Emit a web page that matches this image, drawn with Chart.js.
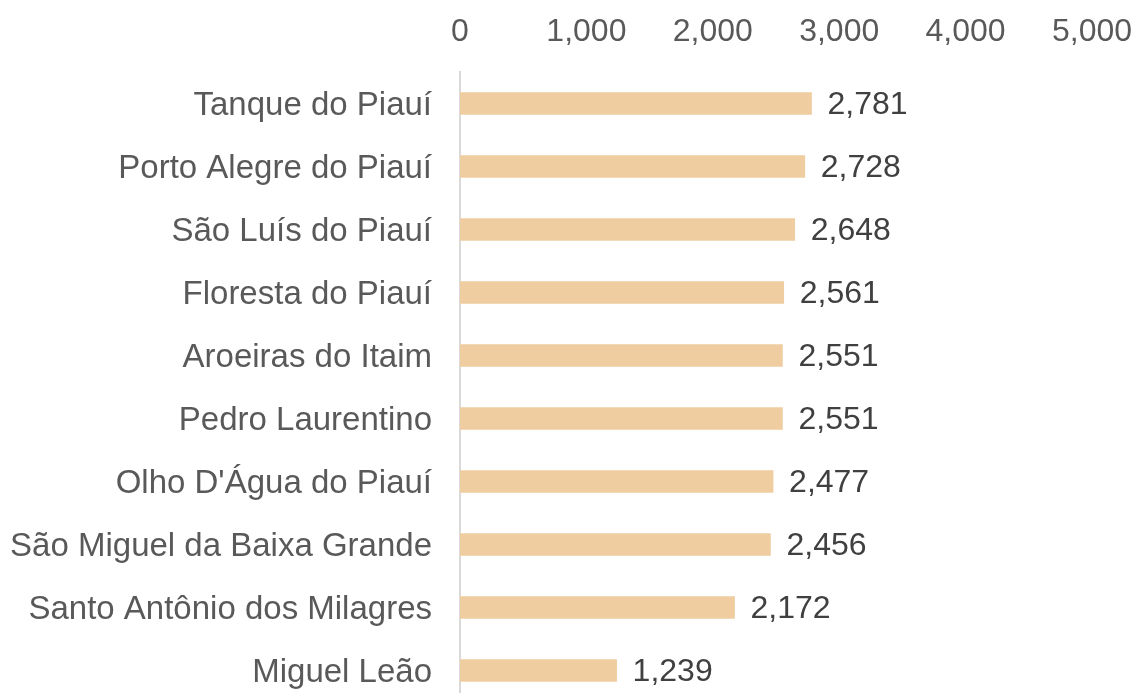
<!DOCTYPE html>
<html>
<head>
<meta charset="utf-8">
<script src="https://cdn.jsdelivr.net/npm/chart.js@4"></script>
<style>
  html, body { margin: 0; padding: 0; background: #fff; overflow: hidden; }
</style>
</head>
<body>
<canvas id="grafico" width="1137" height="702"></canvas>
<script>
const municipios = [
  "Tanque do Piauí",
  "Porto Alegre do Piauí",
  "São Luís do Piauí",
  "Floresta do Piauí",
  "Aroeiras do Itaim",
  "Pedro Laurentino",
  "Olho D'Água do Piauí",
  "São Miguel da Baixa Grande",
  "Santo Antônio dos Milagres",
  "Miguel Leão",
];
const valores = [2781, 2728, 2648, 2561, 2551, 2551, 2477, 2456, 2172, 1239];
const ticksX = [0, 1000, 2000, 3000, 4000, 5000];

const fuente = "'Liberation Sans', Arial, sans-serif";

// etiquetas al final de cada barra
const etiquetasBarras = {
  id: "etiquetasBarras",
  afterDatasetsDraw(chart) {
    const ctx = chart.ctx;
    const meta = chart.getDatasetMeta(0);
    ctx.save();
    ctx.font = "32px " + fuente;
    ctx.fillStyle = "#404040";
    ctx.textAlign = "left";
    ctx.textBaseline = "middle";
    meta.data.forEach((bar, i) => {
      ctx.fillText(valores[i].toLocaleString("en-US"), bar.x + 16, bar.y + 2);
    });
    ctx.restore();
  },
};

const ctx = document.getElementById("grafico").getContext("2d");
new Chart(ctx, {
  type: "bar",
  data: {
    labels: municipios,
    datasets: [
      {
        data: valores,
        backgroundColor: "#F0CDA0",
        barThickness: 22,
      },
    ],
  },
  options: {
    indexAxis: "y",
    responsive: false,
    animation: false,
    layout: { padding: { top: 0, right: 45, bottom: 0, left: 0 } },
    scales: {
      x: {
        position: "top",
        min: 0,
        max: 5000,
        afterBuildTicks: (scale) => {
          scale.ticks = ticksX.map((v) => ({ value: v }));
        },
        afterFit: (scale) => {
          scale.height = 72;
          scale.paddingLeft = 0;
          scale.paddingRight = 0;
        },
        grid: { display: false },
        border: { display: false },
        ticks: {
          color: "#595959",
          font: { family: fuente, size: 32 },
          padding: 13,
          maxRotation: 0,
          callback: (v) => Number(v).toLocaleString("en-US"),
        },
      },
      y: {
        afterFit: (scale) => {
          scale.width = 460;
          scale.paddingTop = 0;
          scale.paddingBottom = 0;
        },
        grid: { display: true, drawOnChartArea: false, drawTicks: false },
        border: { display: true, color: "#D9D9D9", width: 2 },
        ticks: {
          color: "#595959",
          font: { family: fuente, size: 33 },
          padding: 28,
          labelOffset: 2,
        },
      },
    },
    plugins: {
      legend: { display: false },
      tooltip: { enabled: false },
    },
  },
  plugins: [etiquetasBarras],
});
</script>
</body>
</html>
